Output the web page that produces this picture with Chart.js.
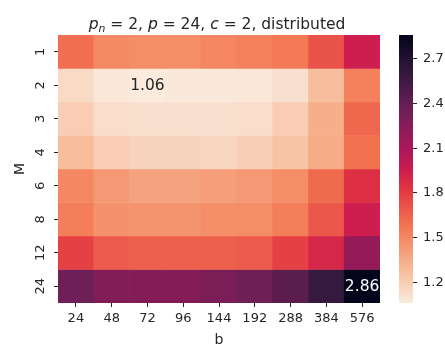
<!DOCTYPE html>
<html>
<head>
<meta charset="utf-8">
<script src="https://cdn.jsdelivr.net/npm/chart.js@4.4.0/dist/chart.umd.min.js"></script>
<style>
  html, body { margin: 0; padding: 0; background: #fff; }
  #wrap { position: relative; width: 445px; height: 344px; overflow: hidden; }
  #wrap canvas { position: absolute; left: 0; top: 0; }
</style>
</head>
<body>
<div id="wrap">
  <canvas id="heat" width="445" height="344"></canvas>
  <canvas id="cbar" width="445" height="344"></canvas>
</div>
<script>
// x categories (b) and rows (M)
const bLabels = ['24', '48', '72', '96', '144', '192', '288', '384', '576'];
const mLabels = ['1', '2', '3', '4', '6', '8', '12', '24'];

// one array per M row, one value per b column
const rowM1  = [1.60, 1.49, 1.48, 1.48, 1.51, 1.53, 1.56, 1.71, 1.95];
const rowM2  = [1.14, 1.08, 1.06, 1.07, 1.07, 1.08, 1.11, 1.27, 1.53];
const rowM3  = [1.20, 1.12, 1.11, 1.11, 1.11, 1.12, 1.20, 1.34, 1.63];
const rowM4  = [1.28, 1.20, 1.17, 1.17, 1.16, 1.19, 1.24, 1.35, 1.59];
const rowM6  = [1.50, 1.43, 1.39, 1.39, 1.41, 1.43, 1.48, 1.62, 1.85];
const rowM8  = [1.54, 1.46, 1.45, 1.45, 1.47, 1.48, 1.54, 1.69, 1.95];
const rowM12 = [1.78, 1.68, 1.66, 1.66, 1.66, 1.68, 1.78, 1.90, 2.19];
const rowM24 = [2.35, 2.27, 2.26, 2.26, 2.30, 2.36, 2.44, 2.60, 2.86];

const cbarTicks = [1.2, 1.5, 1.8, 2.1, 2.4, 2.7];

const rows = [rowM1, rowM2, rowM3, rowM4, rowM6, rowM8, rowM12, rowM24];
const allVals = rows.flat();
const vmin = Math.min(...allVals);
const vmax = Math.max(...allVals);

const FONT = "'DejaVu Sans', sans-serif";
const TEXT = '#262626';

// rocket colormap anchors (dark -> light), used reversed
const rocket = [
    [0.000, [3, 5, 26]],
    [0.143, [53, 25, 62]],
    [0.286, [112, 31, 87]],
    [0.429, [173, 23, 89]],
    [0.500, [203, 28, 80]],
    [0.571, [225, 51, 66]],
    [0.714, [243, 118, 81]],
    [0.857, [246, 180, 143]],
    [1.000, [250, 235, 221]]
];

function rocketRgb(p) {
    p = Math.max(0, Math.min(1, p));
    for (let i = 1; i < rocket.length; i++) {
        const [p1, c1] = rocket[i];
        const [p0, c0] = rocket[i - 1];
        if (p <= p1) {
            const f = (p - p0) / (p1 - p0);
            return c0.map((c, k) => Math.round(c + (c1[k] - c) * f));
        }
    }
    return rocket[rocket.length - 1][1];
}

function colorFor(v) {
    const t = (v - vmin) / (vmax - vmin);
    const c = rocketRgb(1 - t);
    return `rgb(${c[0]},${c[1]},${c[2]})`;
}

function lum(v) {
    const c = rocketRgb(1 - (v - vmin) / (vmax - vmin));
    return (0.299 * c[0] + 0.587 * c[1] + 0.114 * c[2]) / 255;
}

// title with italic symbols and subscript
const titlePlugin = {
    id: 'mathTitle',
    afterDraw(chart) {
        const ctx = chart.ctx;
        const area = chart.chartArea;
        const size = 15.5;
        const parts = [
            { t: 'p', it: true },
            { t: 'n', it: true, sub: true },
            { t: ' = 2, ' },
            { t: 'p', it: true },
            { t: ' = 24, ' },
            { t: 'c', it: true },
            { t: ' = 2, distributed' }
        ];
        const fontOf = p => `${p.it ? 'oblique ' : ''}${p.sub ? size * 0.7 : size}px ${FONT}`;
        let total = 0;
        parts.forEach(p => { ctx.font = fontOf(p); p.w = ctx.measureText(p.t).width; total += p.w; });
        let x = (area.left + area.right) / 2 - 2 - total / 2;
        const base = 28.5;
        ctx.save();
        ctx.fillStyle = TEXT;
        ctx.textBaseline = 'alphabetic';
        ctx.textAlign = 'left';
        parts.forEach(p => {
            ctx.font = fontOf(p);
            ctx.fillText(p.t, x, p.sub ? base + 3 : base);
            x += p.w;
        });
        ctx.restore();
    }
};

// rotated M tick labels and the min / max annotations
const labelPlugin = {
    id: 'heatLabels',
    afterDraw(chart) {
        const ctx = chart.ctx;
        const xs = chart.scales.x;
        const ys = chart.scales.y;
        ctx.save();
        ctx.fillStyle = TEXT;
        ctx.font = `13px ${FONT}`;
        ctx.textAlign = 'center';
        ctx.textBaseline = 'alphabetic';
        mLabels.forEach((m, i) => {
            const y = ys.getPixelForValue(i + 0.5);
            ctx.save();
            ctx.translate(43.5, y);
            ctx.rotate(-Math.PI / 2);
            ctx.fillText(m, 0, 0);
            ctx.restore();
        });

        ctx.font = `15.5px ${FONT}`;
        ctx.textBaseline = 'middle';
        rows.forEach((vals, i) => {
            vals.forEach((v, j) => {
                if (v !== vmin && v !== vmax) return;
                ctx.fillStyle = lum(v) > 0.408 ? TEXT : '#ffffff';
                ctx.fillText(v.toFixed(2), xs.getPixelForValue(j), ys.getPixelForValue(i + 0.5) + 1);
            });
        });
        ctx.restore();
    }
};

new Chart(document.getElementById('heat'), {
    type: 'bar',
    data: {
        labels: bLabels,
        datasets: rows.map((vals, i) => ({
            data: vals.map(() => [i, i + 1]),
            backgroundColor: vals.map(colorFor),
            borderWidth: 0,
            grouped: false,
            barPercentage: 1,
            categoryPercentage: 1
        }))
    },
    options: {
        responsive: false,
        animation: false,
        devicePixelRatio: 1,
        layout: { padding: { left: 0, right: 65, top: 35, bottom: 0 } },
        plugins: { legend: { display: false }, tooltip: { enabled: false } },
        scales: {
            x: {
                type: 'category',
                offset: true,
                border: { display: false },
                grid: { offset: false, drawOnChartArea: false, drawTicks: true, tickLength: 4, tickColor: TEXT, lineWidth: 1 },
                ticks: { color: TEXT, font: { family: FONT, size: 13 }, padding: 4, maxRotation: 0 },
                title: { display: true, text: 'b', color: TEXT, font: { family: FONT, size: 14 }, padding: { top: 0, bottom: -5 } },
                afterFit: s => { s.height = 41; }
            },
            y: {
                type: 'linear',
                min: 0,
                max: mLabels.length,
                reverse: true,
                border: { display: false },
                grid: { drawOnChartArea: false, drawTicks: true, tickLength: 4, tickColor: TEXT, lineWidth: 1 },
                ticks: { display: false },
                afterBuildTicks: s => { s.ticks = mLabels.map((m, i) => ({ value: i + 0.5 })); },
                title: { display: true, text: 'M', color: TEXT, font: { family: FONT, size: 14 }, padding: { top: 11.6, bottom: 0 } },
                afterFit: s => { s.width = 58; }
            }
        }
    },
    plugins: [titlePlugin, labelPlugin]
});

// colour bar: one floating bar filled with the colormap gradient
new Chart(document.getElementById('cbar'), {
    type: 'bar',
    data: {
        labels: [''],
        datasets: [{
            data: [[vmin, vmax]],
            borderWidth: 0,
            barPercentage: 1,
            categoryPercentage: 1,
            backgroundColor: c => {
                const ys = c.chart.scales.y;
                if (!ys || !c.chart.chartArea) return colorFor(vmin);
                const y0 = ys.getPixelForValue(vmin);
                const y1 = ys.getPixelForValue(vmax);
                const g = c.chart.ctx.createLinearGradient(0, y0, 0, y1);
                for (let k = 0; k <= 40; k++) {
                    g.addColorStop(k / 40, colorFor(vmin + (vmax - vmin) * k / 40));
                }
                return g;
            }
        }]
    },
    options: {
        responsive: false,
        animation: false,
        devicePixelRatio: 1,
        layout: { padding: { left: 399, right: 0, top: 35, bottom: 41 } },
        plugins: { legend: { display: false }, tooltip: { enabled: false } },
        scales: {
            x: { display: false },
            y: {
                type: 'linear',
                position: 'right',
                min: vmin,
                max: vmax,
                border: { display: false },
                grid: { drawOnChartArea: false, drawTicks: true, tickLength: 4, tickColor: TEXT, lineWidth: 1 },
                ticks: {
                    color: TEXT,
                    font: { family: FONT, size: 13 },
                    padding: 6,
                    callback: v => v.toFixed(1)
                },
                afterBuildTicks: s => { s.ticks = cbarTicks.map(v => ({ value: v })); },
                afterFit: s => { s.width = 32; }
            }
        }
    }
});
</script>
</body>
</html>
